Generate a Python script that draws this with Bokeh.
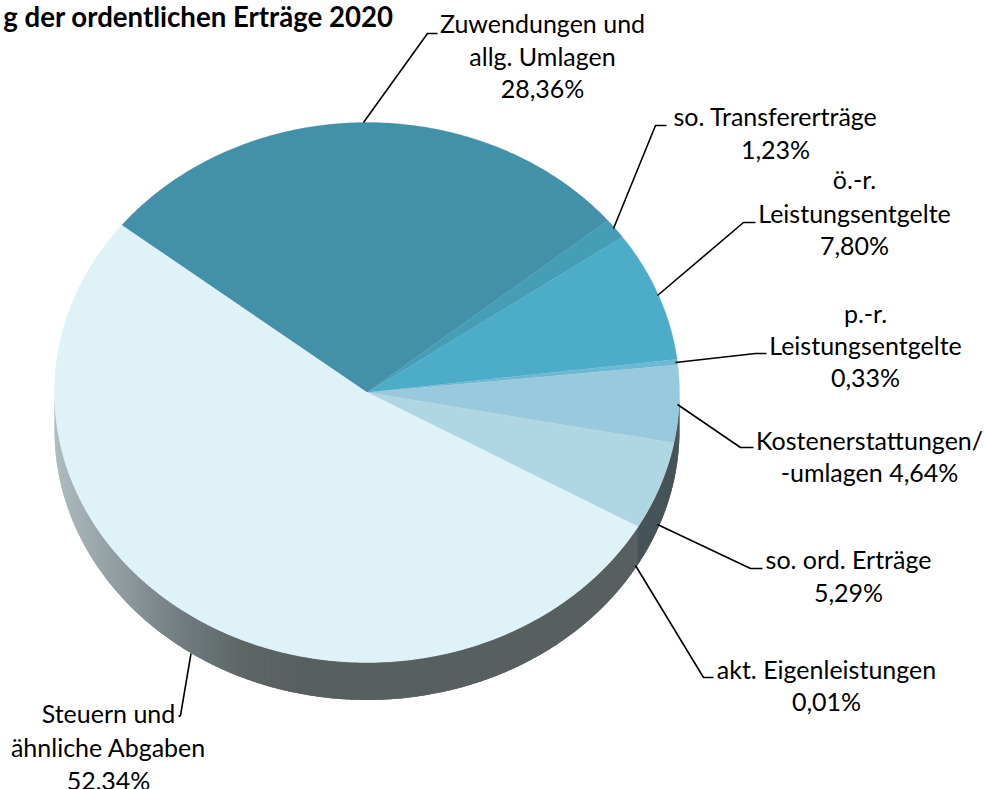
import math
from bokeh.plotting import figure
from bokeh.models import Range1d
from bokeh.core.properties import value
from bokeh.embed import file_html
from bokeh.resources import INLINE

# ---- data (clockwise from the Zuwendungen slice) ----
categories = ["Zuwendungen und allg. Umlagen", "so. Transfererträge", "ö.-r. Leistungsentgelte",
              "p.-r. Leistungsentgelte", "Kostenerstattungen/-umlagen", "so. ord. Erträge",
              "akt. Eigenleistungen", "Steuern und ähnliche Abgaben"]
shares = [28.36, 1.23, 7.80, 0.33, 4.64, 5.29, 0.01, 52.34]
title_text = "g der ordentlichen Erträge 2020"
label_lines = [
    ["Zuwendungen und", "allg. Umlagen", "28,36%"],
    ["so. Transfererträge", "1,23%"],
    ["ö.-r.", "Leistungsentgelte", "7,80%"],
    ["p.-r.", "Leistungsentgelte", "0,33%"],
    ["Kostenerstattungen/", "-umlagen 4,64%"],
    ["so. ord. Erträge", "5,29%"],
    ["akt. Eigenleistungen", "0,01%"],
    ["Steuern und", "ähnliche Abgaben", "52,34%"],
]

# ---- style and layout ----
slice_colors = ["#4391a8", "#459db6", "#4dacc8", "#6db8d2", "#99c9dc", "#b1d6e3", "#dff2f8", "#dff2f8"]
label_x = [542, 775, 854, 865, 869, 848, 826, 108]
label_y = [[22, 55, 87], [115, 148], [178, 212, 244], [312, 344, 376], [439, 471], [558, 591], [668, 700], [712, 746, 779]]
leaders_x = [[363, 427, 437], [613, 655, 666], [657, 743, 755], [675, 755, 766],
             [677, 740, 753], [657, 750, 762], [635, 703, 713], [190.5, 180, 178]]
leaders_y = [[122, 33, 33], [228, 125, 125], [295, 222, 222], [362, 353, 353],
             [404, 447, 447], [524, 568, 568], [565, 677, 677], [653, 715, 716]]
CX, CY, RX, RY, DEPTH = 366.5, 392.0, 312.5, 270.0, 37.5
START = -51.7
FONT = "Lato"
FS = "25px"


def pt(theta, dy=0.0):
    t = math.radians(theta)
    return CX + RX * math.sin(t), CY - RY * math.cos(t) + dy


def lerp_hex(stops, x):
    if x <= stops[0][0]:
        return stops[0][1]
    for (x0, c0), (x1, c1) in zip(stops, stops[1:]):
        if x <= x1:
            f = (x - x0) / (x1 - x0)
            a = [int(c0[i:i + 2], 16) for i in (1, 3, 5)]
            b = [int(c1[i:i + 2], 16) for i in (1, 3, 5)]
            return "#%02x%02x%02x" % tuple(round(p + (q - p) * f) for p, q in zip(a, b))
    return stops[-1][1]


side_stops = [(54, "#aebdbf"), (100, "#98a6a9"), (140, "#869194"), (188, "#6f797e"),
              (240, "#5e6666"), (300, "#585f60"), (700, "#585f60")]

p = figure(width=984, height=789, output_backend="svg", toolbar_location=None,
           x_range=Range1d(0, 984), y_range=Range1d(789, 0),
           min_border=0, outline_line_color=None)
p.axis.visible = False
p.grid.visible = False
p.border_fill_color = "white"
p.background_fill_color = "white"

# slice boundaries from the values
total = sum(shares)
bounds = [START]
for s in shares:
    bounds.append(bounds[-1] + s / total * 360.0)

# side wall, only where the rim faces the viewer; strips overlap so no seams show
xs, ys, cols = [], [], []
n_steps = 180
for k in range(n_steps):
    a0 = 90 + 180.0 * k / n_steps
    a1 = min(270.0, 90 + 180.0 * (k + 2) / n_steps)
    m = 8
    arc = [pt(a0 + (a1 - a0) * i / m) for i in range(m + 1)]
    xs.append([q[0] for q in arc] + [q[0] for q in reversed(arc)])
    ys.append([q[1] for q in arc] + [q[1] + DEPTH for q in reversed(arc)])
    mid = a0 + 0.5
    cols.append("#465459" if mid < bounds[6] % 360 else lerp_hex(side_stops, arc[m // 4][0]))
p.patches(xs, ys, fill_color=cols, line_color=None)

# top surface
wx, wy = [], []
for a0, a1 in zip(bounds, bounds[1:]):
    n = max(2, int((a1 - a0) / 0.75))
    arc = [pt(a0 + (a1 - a0) * i / n) for i in range(n + 1)]
    wx.append([CX] + [q[0] for q in arc])
    wy.append([CY] + [q[1] for q in arc])
p.patches(wx, wy, fill_color=slice_colors, line_color=slice_colors, line_width=0.3)

# leader lines
p.multi_line(leaders_x, leaders_y, line_color="black", line_width=1.6)

# labels
tx, ty, tt = [], [], []
for x, ylist, lines in zip(label_x, label_y, label_lines):
    for y, s in zip(ylist, lines):
        tx.append(x)
        ty.append(y)
        tt.append(s)
p.text(tx, ty, text=tt, text_font=value(FONT), text_font_size=value(FS), text_color="black",
       text_align="center", text_baseline="middle")
p.text([393], [16], text=[title_text], text_font=value(FONT), text_font_size=value("27.6px"),
       text_font_style="bold", text_color="black", text_align="right", text_baseline="alphabetic")

open("out.html", "w").write(file_html(p, INLINE))
